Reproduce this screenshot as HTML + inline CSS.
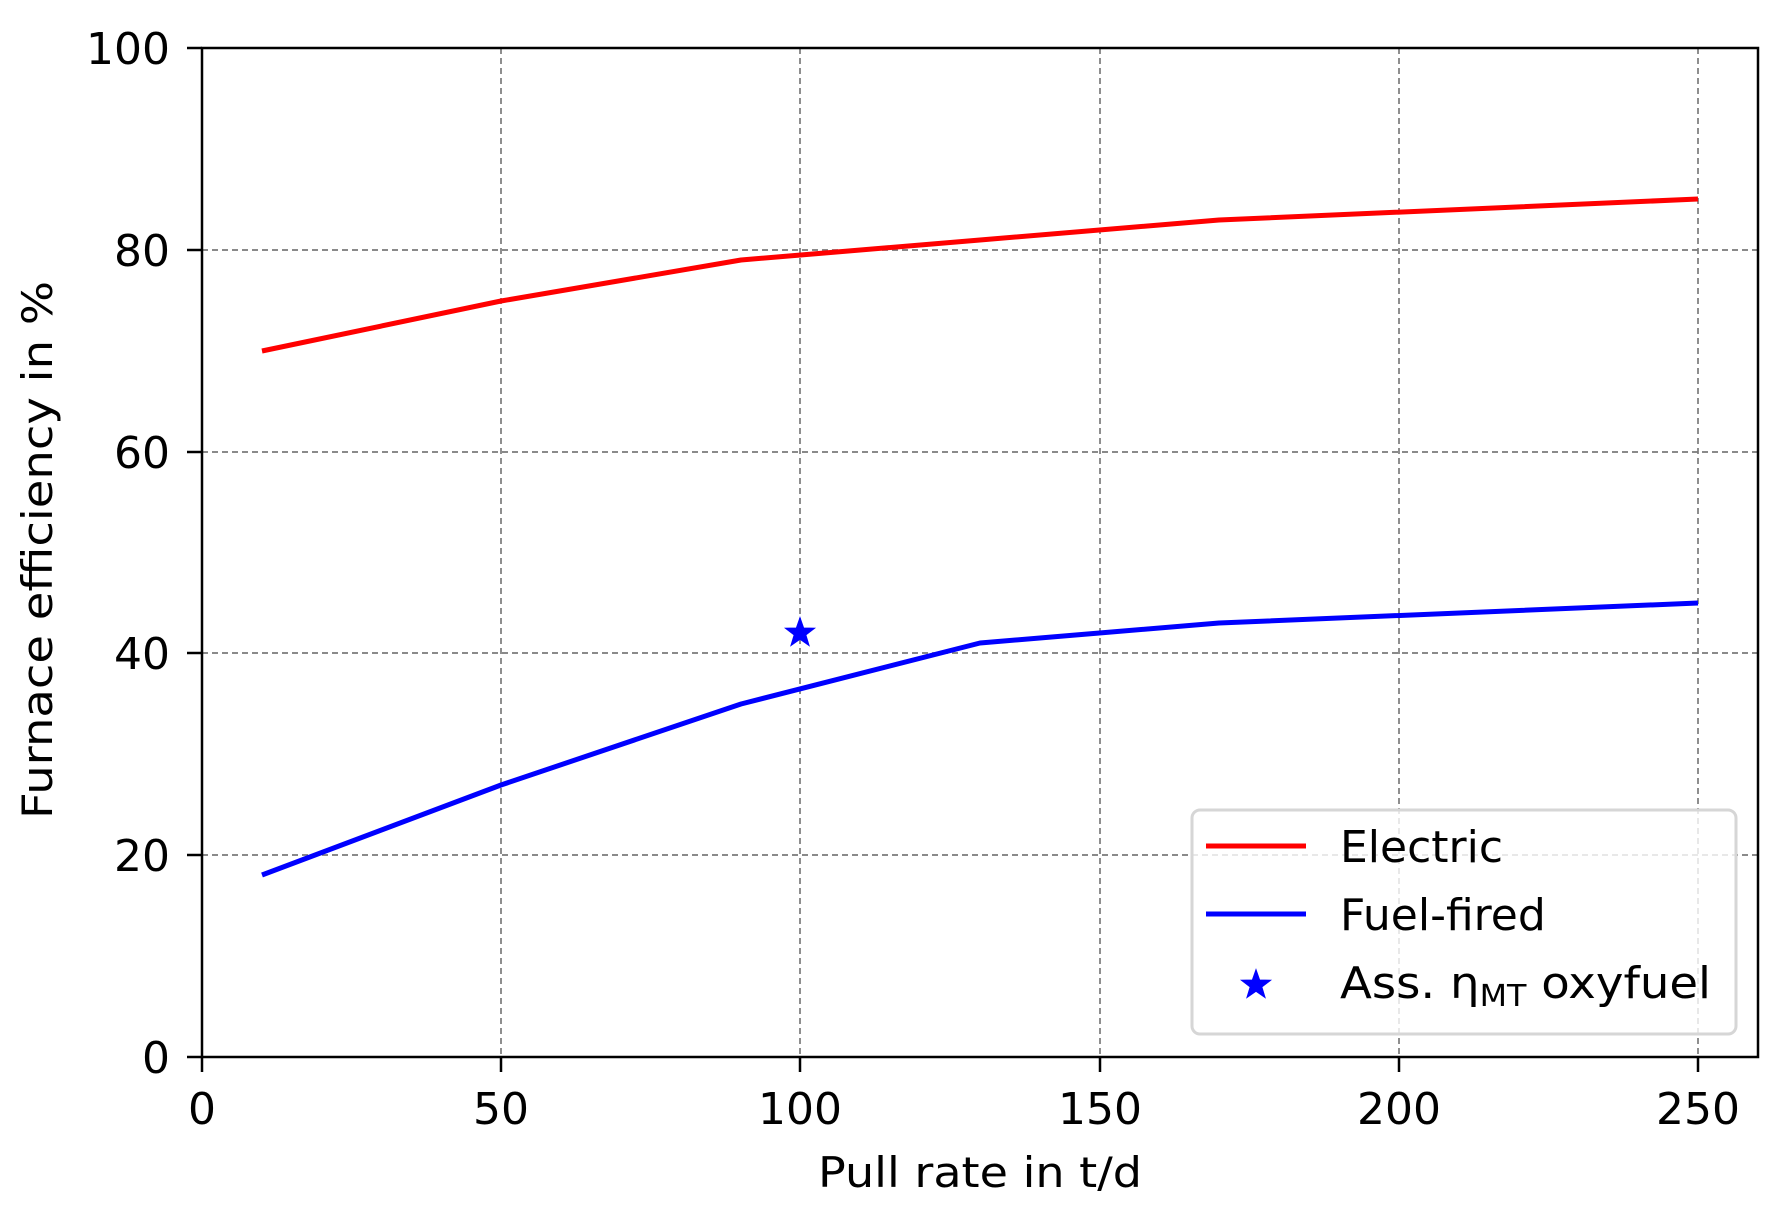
<!DOCTYPE html>
<html><head><meta charset="utf-8"><style>html,body{margin:0;padding:0;background:#fff}svg{display:block}</style></head>
<body>
<svg width="1785" height="1217" viewBox="0 0 1785 1217" xmlns="http://www.w3.org/2000/svg" font-family="DejaVu Sans, Liberation Sans, sans-serif">
<rect width="1785" height="1217" fill="#fff"/>
<g stroke="#7a7a7a" stroke-width="1.7" stroke-dasharray="6,4" fill="none">
<line x1="501" y1="48" x2="501" y2="1057"/>
<line x1="800" y1="48" x2="800" y2="1057"/>
<line x1="1100" y1="48" x2="1100" y2="1057"/>
<line x1="1399" y1="48" x2="1399" y2="1057"/>
<line x1="1698" y1="48" x2="1698" y2="1057"/>
<line x1="202" y1="855" x2="1758" y2="855"/>
<line x1="202" y1="653" x2="1758" y2="653"/>
<line x1="202" y1="452" x2="1758" y2="452"/>
<line x1="202" y1="250" x2="1758" y2="250"/>
</g>
<polyline fill="none" stroke="#ff0000" stroke-width="5" stroke-linejoin="round" points="262,351 501,301 741,260 980,240 1219,220 1698,199"/>
<polyline fill="none" stroke="#0000ff" stroke-width="5" stroke-linejoin="round" points="262,875 501,785 741,704 980,643 1219,623 1698,603"/>
<polygon fill="#0000ff" stroke="#0000ff" stroke-width="2" transform="translate(800,633) scale(1.2)" points="0,-11 2.6,-3.6 10.5,-3.4 4.2,1.4 6.5,9 0,4.5 -6.5,9 -4.2,1.4 -10.5,-3.4 -2.6,-3.6"/>
<rect x="202" y="48" width="1556" height="1009" fill="none" stroke="#000" stroke-width="2.5"/>
<g stroke="#000" stroke-width="2.5">
<line x1="202" y1="1057" x2="202" y2="1072"/><line x1="501" y1="1057" x2="501" y2="1072"/><line x1="800" y1="1057" x2="800" y2="1072"/><line x1="1100" y1="1057" x2="1100" y2="1072"/><line x1="1399" y1="1057" x2="1399" y2="1072"/><line x1="1698" y1="1057" x2="1698" y2="1072"/>
<line x1="187" y1="1057" x2="202" y2="1057"/><line x1="187" y1="855" x2="202" y2="855"/><line x1="187" y1="653" x2="202" y2="653"/><line x1="187" y1="452" x2="202" y2="452"/><line x1="187" y1="250" x2="202" y2="250"/><line x1="187" y1="48" x2="202" y2="48"/>
</g>
<g font-size="44" fill="#000" text-anchor="middle">
<text x="202" y="1124">0</text><text x="501" y="1124">50</text><text x="800" y="1124">100</text><text x="1100" y="1124">150</text><text x="1399" y="1124">200</text><text x="1698" y="1124">250</text>
</g>
<g font-size="44" fill="#000" text-anchor="end">
<text x="170" y="1073">0</text><text x="170" y="871">20</text><text x="170" y="669">40</text><text x="170" y="468">60</text><text x="170" y="266">80</text><text x="170" y="64">100</text>
</g>
<text x="980" y="1187" font-size="42" text-anchor="middle" textLength="324" lengthAdjust="spacingAndGlyphs">Pull rate in t/d</text>
<text transform="translate(52,550) rotate(-90)" font-size="42" text-anchor="middle" textLength="538" lengthAdjust="spacingAndGlyphs">Furnace efficiency in %</text>
<rect x="1192" y="810" width="544" height="224" rx="8" fill="#fff" fill-opacity="0.8" stroke="#d6d6d6" stroke-width="3"/>
<line x1="1206" y1="846" x2="1306" y2="846" stroke="#ff0000" stroke-width="5"/>
<line x1="1206" y1="914" x2="1306" y2="914" stroke="#0000ff" stroke-width="5"/>
<polygon fill="#0000ff" stroke="#0000ff" stroke-width="2" transform="translate(1256,985) scale(1.2)" points="0,-11 2.6,-3.6 10.5,-3.4 4.2,1.4 6.5,9 0,4.5 -6.5,9 -4.2,1.4 -10.5,-3.4 -2.6,-3.6"/>
<g font-size="44" fill="#000">
<text x="1340" y="862">Electric</text>
<text x="1340" y="930">Fuel-fired</text>
<text x="1340" y="998" textLength="371" lengthAdjust="spacingAndGlyphs">Ass. η<tspan font-size="30" dy="8">MT</tspan><tspan dy="-8"> oxyfuel</tspan></text>
</g>
</svg>
</body></html>
